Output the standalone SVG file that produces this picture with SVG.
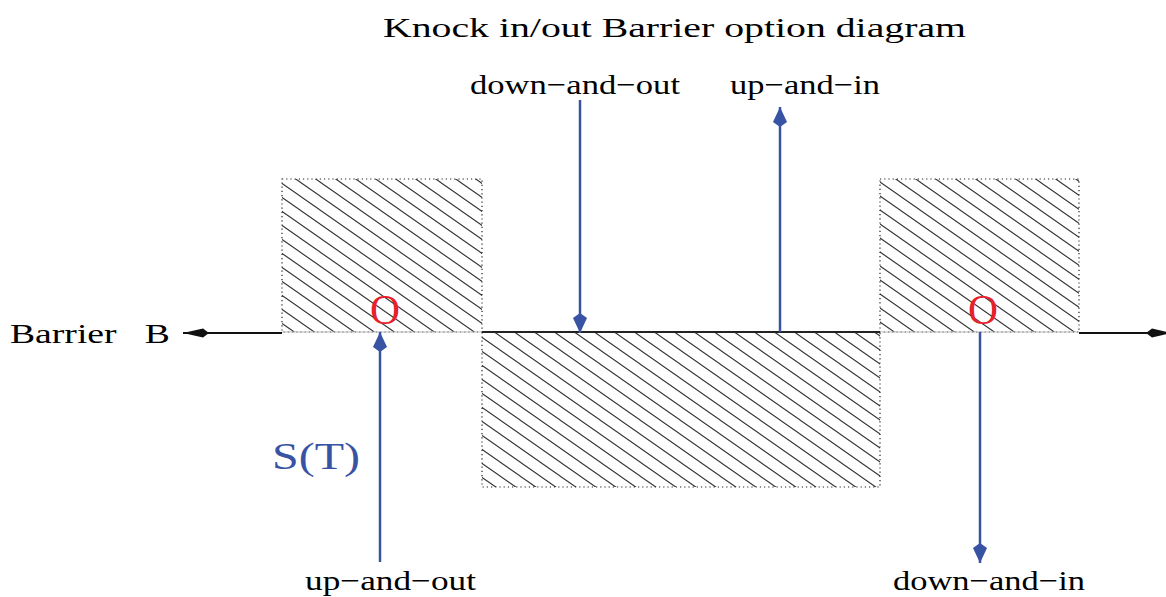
<svg xmlns="http://www.w3.org/2000/svg" width="1166" height="597" viewBox="0 0 1166 597">
<style>
.t{font-family:"Liberation Serif","Times New Roman",serif;fill:#000;font-size:28px}
.box{stroke:#222;stroke-width:1.2;stroke-dasharray:1.2 3;}
.blue{stroke:#3953A4;stroke-width:2.5;fill:none}
.red{font-family:"Liberation Serif",serif;font-size:42px;fill:#E8202A}
</style>
<defs>
<pattern id="hatch" patternUnits="userSpaceOnUse" width="20" height="14">
<path d="M-4,-2.8 L24,16.8 M-24,-2.8 L4,16.8 M16,-2.8 L44,16.8" stroke="#333" stroke-width="1.1"/>
</pattern>
<marker id="bl" viewBox="0 0 20 14" refX="20" refY="7" markerWidth="20" markerHeight="14" markerUnits="userSpaceOnUse" orient="auto">
<path d="M0,7 L5,0 L20,7 L5,14 Z" fill="#3953A4"/>
</marker>
<marker id="bk" viewBox="0 0 26 10" refX="26" refY="5" markerWidth="26" markerHeight="10" markerUnits="userSpaceOnUse" orient="auto">
<path d="M0,5 L6,0.5 L26,5 L6,9.5 Z" fill="#111"/>
</marker>
</defs>
<rect width="1166" height="597" fill="#fff"/>
<text class="t" x="383" y="37" font-size="32" textLength="583" lengthAdjust="spacingAndGlyphs">Knock in/out Barrier option diagram</text>

<g id="box-left"><rect x="282" y="179" width="200" height="153" fill="url(#hatch)" class="box"/></g>
<g id="box-middle"><rect x="482" y="332" width="398" height="155" fill="url(#hatch)" class="box"/></g>
<g id="box-right"><rect x="880" y="179" width="199" height="153" fill="url(#hatch)" class="box"/></g>

<g id="connectors">
<line x1="282" y1="332" x2="482" y2="332" stroke="#bbb" stroke-width="1.2"/>
<line x1="880" y1="332" x2="1079" y2="332" stroke="#bbb" stroke-width="1.2"/>
<line x1="482" y1="332" x2="880" y2="332" stroke="#222" stroke-width="2"/>
<line x1="282" y1="333" x2="183" y2="333" stroke="#111" stroke-width="2" marker-end="url(#bk)"/>
<line x1="1079" y1="333" x2="1172" y2="333" stroke="#111" stroke-width="2" marker-end="url(#bk)"/>
<line class="blue" x1="580" y1="100" x2="580" y2="333" marker-end="url(#bl)"/>
<line class="blue" x1="780" y1="332" x2="780" y2="107" marker-end="url(#bl)"/>
<line class="blue" x1="380" y1="562" x2="380" y2="332" marker-end="url(#bl)"/>
<line class="blue" x1="980" y1="332" x2="980" y2="563" marker-end="url(#bl)"/>
</g>

<g id="labels">
<text class="t" x="470" y="94" textLength="210" lengthAdjust="spacingAndGlyphs">down−and−out</text>
<text class="t" x="730" y="94" textLength="150" lengthAdjust="spacingAndGlyphs">up−and−in</text>
<text class="t" x="305" y="590" textLength="171" lengthAdjust="spacingAndGlyphs">up−and−out</text>
<text class="t" x="893" y="590" textLength="192" lengthAdjust="spacingAndGlyphs">down−and−in</text>
<text class="t" x="10" y="343" font-size="29" textLength="160" lengthAdjust="spacingAndGlyphs" xml:space="preserve">Barrier   B</text>
<text x="272" y="469" font-family="Liberation Serif,serif" font-size="38" fill="#3953A4" textLength="88" lengthAdjust="spacingAndGlyphs">S(T)</text>
<text class="red" x="370" y="324" textLength="30" lengthAdjust="spacingAndGlyphs">O</text>
<text class="red" x="968" y="324" textLength="30" lengthAdjust="spacingAndGlyphs">O</text>
</g>
</svg>
